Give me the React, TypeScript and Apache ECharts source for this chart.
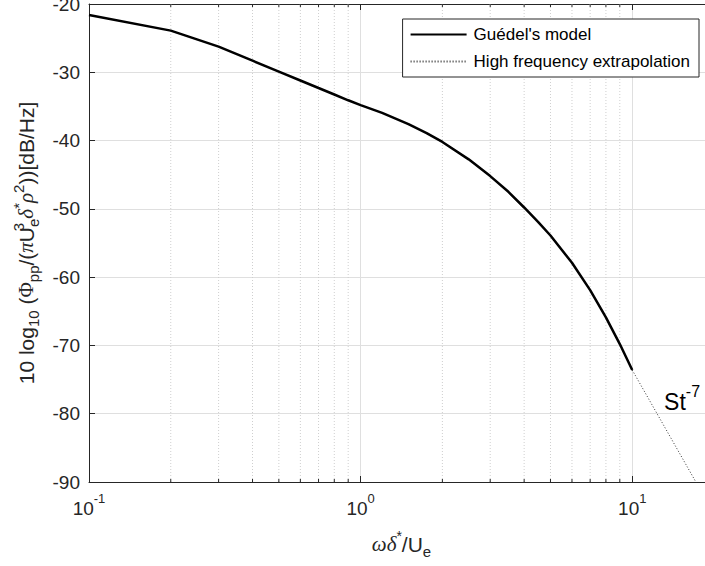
import React, { useEffect, useRef } from "react";
import * as echarts from "echarts";

const modelX = [0.1, 0.2, 0.3, 0.4, 0.5, 0.6, 0.7, 0.8, 0.9, 1.0, 1.2, 1.5, 1.75, 2, 2.5, 3, 3.5, 4, 4.5, 5, 6, 7, 8, 9, 10];
const modelY = [-21.6, -23.9, -26.25, -28.3, -29.9, -31.2, -32.3, -33.25, -34.1, -34.8, -35.95, -37.6, -38.9, -40.2, -42.75, -45.2, -47.5, -49.8, -51.9, -53.9, -57.9, -61.9, -65.9, -69.8, -73.6];
const extrapX = [10, 20];
const extrapY = [-73.6, -94.67];
const minorX = [0.2, 0.3, 0.4, 0.5, 0.6, 0.7, 0.8, 0.9, 2, 3, 4, 5, 6, 7, 8, 9];
const seriesNames = ["Guédel's model", "High frequency extrapolation"];
const annotation = { x: 13.1, y: -77.7, base: "St", sup: "-7" };

const AX = "#262626";
const SANS = "'Liberation Sans', Arial, Helvetica, sans-serif";
const SERIF = "'Liberation Serif', 'Times New Roman', serif";

export default function App() {
  const ref = useRef<HTMLDivElement>(null);
  useEffect(() => {
    document.body.style.margin = "0";
    if (!ref.current) return;
    const chart = echarts.init(ref.current, null, { renderer: "svg" });
    const expLabel = (v: number) => {
      if (v > 15) return "";
      const e = Math.round(Math.log10(v));
      return `{b|10}{s|${e}}`;
    };
    const xCommon = {
      type: "log" as const,
      logBase: 10,
      min: 0.1,
      max: 20,
      interval: 1,
    };
    chart.setOption({
      animation: false,
      backgroundColor: "#ffffff",
      grid: { left: 89, right: -9, top: 4, bottom: 84, containLabel: false, outerBoundsMode: "none" },
      legend: {
        data: seriesNames,
        orient: "vertical",
        right: 6,
        top: 19,
        itemWidth: 56,
        itemHeight: 14,
        itemGap: 10,
        padding: [7, 9, 7, 7],
        backgroundColor: "#ffffff",
        borderColor: AX,
        borderWidth: 1,
        borderRadius: 0,
        selectedMode: false,
        itemStyle: { opacity: 0 },
        textStyle: { fontFamily: SANS, fontSize: 17, color: "#000", padding: [0, 0, 0, 2] },
      },
      xAxis: [
        {
          ...xCommon,
          position: "bottom",
          name: "{g|ωδ}{gs|*}{n|/U}{sub|e}",
          nameLocation: "middle",
          nameGap: 47,
          nameTextStyle: {
            rich: {
              g: { fontFamily: SERIF, fontStyle: "italic", fontSize: 21, color: AX, lineHeight: 30, verticalAlign: "middle" },
              gs: { fontFamily: SANS, fontSize: 14, color: AX, lineHeight: 20, verticalAlign: "top" },
              n: { fontFamily: SANS, fontSize: 21, color: AX, lineHeight: 30, verticalAlign: "middle" },
              sub: { fontFamily: SANS, fontSize: 15, color: AX, lineHeight: 18, verticalAlign: "bottom" },
            },
          },
          axisLine: { show: true, lineStyle: { color: AX, width: 1 } },
          axisTick: { show: true, inside: true, length: 6, lineStyle: { color: AX } },
          axisLabel: {
            margin: 10,
            formatter: expLabel,
            rich: {
              b: { fontFamily: SANS, fontSize: 19, color: AX, lineHeight: 26, verticalAlign: "bottom" },
              s: { fontFamily: SANS, fontSize: 13, color: AX, lineHeight: 16, verticalAlign: "top" },
            },
          },
          splitLine: { show: true, lineStyle: { color: "#dfdfdf", width: 1 } },
          minorTick: { show: false },
        },
        {
          ...xCommon,
          position: "top",
          axisLine: { show: true, lineStyle: { color: AX, width: 1 } },
          axisTick: { show: true, inside: true, length: 6, lineStyle: { color: AX } },
          axisLabel: { show: false },
          splitLine: { show: false },
        },
      ],
      yAxis: {
        type: "value",
        min: -90,
        max: -20,
        interval: 10,
        name:
          "{n|10 log}{sub|10}{n| (}{gr|Φ}{sub|pp}{n|/(}{gi|π}{n|U}{supz|3}{sub|e}{gi|δ}{sup|*}{gi|ρ}{sup|2}{n|))[dB/Hz]}",
        nameLocation: "middle",
        nameRotate: 90,
        nameGap: 48,
        nameTextStyle: {
          rich: {
            n: { fontFamily: SANS, fontSize: 21, color: AX, lineHeight: 30, verticalAlign: "middle" },
            gr: { fontFamily: SERIF, fontSize: 21, color: AX, lineHeight: 30, verticalAlign: "middle" },
            gi: { fontFamily: SERIF, fontStyle: "italic", fontSize: 21, color: AX, lineHeight: 30, verticalAlign: "middle" },
            sub: { fontFamily: SANS, fontSize: 15, color: AX, lineHeight: 18, verticalAlign: "bottom" },
            sup: { fontFamily: SANS, fontSize: 15, color: AX, lineHeight: 18, verticalAlign: "top" },
            supz: { fontFamily: SANS, fontSize: 15, color: AX, lineHeight: 18, verticalAlign: "top", width: 0.01 },
          },
        },
        axisLine: { show: true, lineStyle: { color: AX, width: 1 } },
        axisTick: { show: true, inside: true, length: 6, lineStyle: { color: AX } },
        axisLabel: { fontFamily: SANS, fontSize: 19, color: AX, margin: 9 },
        splitLine: { show: true, lineStyle: { color: "#dfdfdf", width: 1 } },
      },
      series: [
        {
          type: "custom",
          name: "minor",
          xAxisIndex: 0,
          z: 1,
          silent: true,
          clip: true,
          data: minorX.map((x) => [x, -90]),
          encode: { x: 0, y: 1 },
          renderItem: (_p: any, api: any) => {
            const x = api.value(0);
            const top = api.coord([x, -20]);
            const bot = api.coord([x, -90]);
            return {
              type: "group",
              children: [
                {
                  type: "line",
                  shape: { x1: top[0], y1: top[1], x2: bot[0], y2: bot[1] },
                  style: { stroke: "#cfcfcf", lineWidth: 1, lineDash: [1, 2] },
                },
                {
                  type: "line",
                  shape: { x1: bot[0], y1: bot[1], x2: bot[0], y2: bot[1] - 3 },
                  style: { stroke: AX, lineWidth: 1 },
                },
                {
                  type: "line",
                  shape: { x1: top[0], y1: top[1], x2: top[0], y2: top[1] + 3 },
                  style: { stroke: AX, lineWidth: 1 },
                },
              ],
            };
          },
        },
        {
          type: "line",
          name: seriesNames[0],
          z: 3,
          data: modelX.map((x, i) => [x, modelY[i]]),
          symbol: "none",
          smooth: false,
          lineStyle: { color: "#000000", width: 2.5 },
          itemStyle: { color: "#000000", opacity: 0 },
        },
        {
          type: "line",
          name: seriesNames[1],
          z: 3,
          clip: true,
          data: extrapX.map((x, i) => [x, extrapY[i]]),
          symbol: "none",
          lineStyle: { color: "#333333", width: 1, type: [1, 2] },
          itemStyle: { color: "#333333", opacity: 0 },
          markPoint: {
            symbol: "circle",
            symbolSize: 0,
            silent: true,
            data: [{ coord: [annotation.x, annotation.y] }],
            label: {
              show: true,
              position: "right",
              distance: 0,
              formatter: `{b|${annotation.base}}{s|${annotation.sup}}`,
              rich: {
                b: { fontFamily: SANS, fontSize: 23, color: "#000", lineHeight: 30, verticalAlign: "bottom" },
                s: { fontFamily: SANS, fontSize: 16, color: "#000", lineHeight: 18, verticalAlign: "top" },
              },
            },
          },
        },
      ],
    });
    return () => chart.dispose();
  }, []);
  return <div ref={ref} style={{ width: 705, height: 566 }} />;
}
